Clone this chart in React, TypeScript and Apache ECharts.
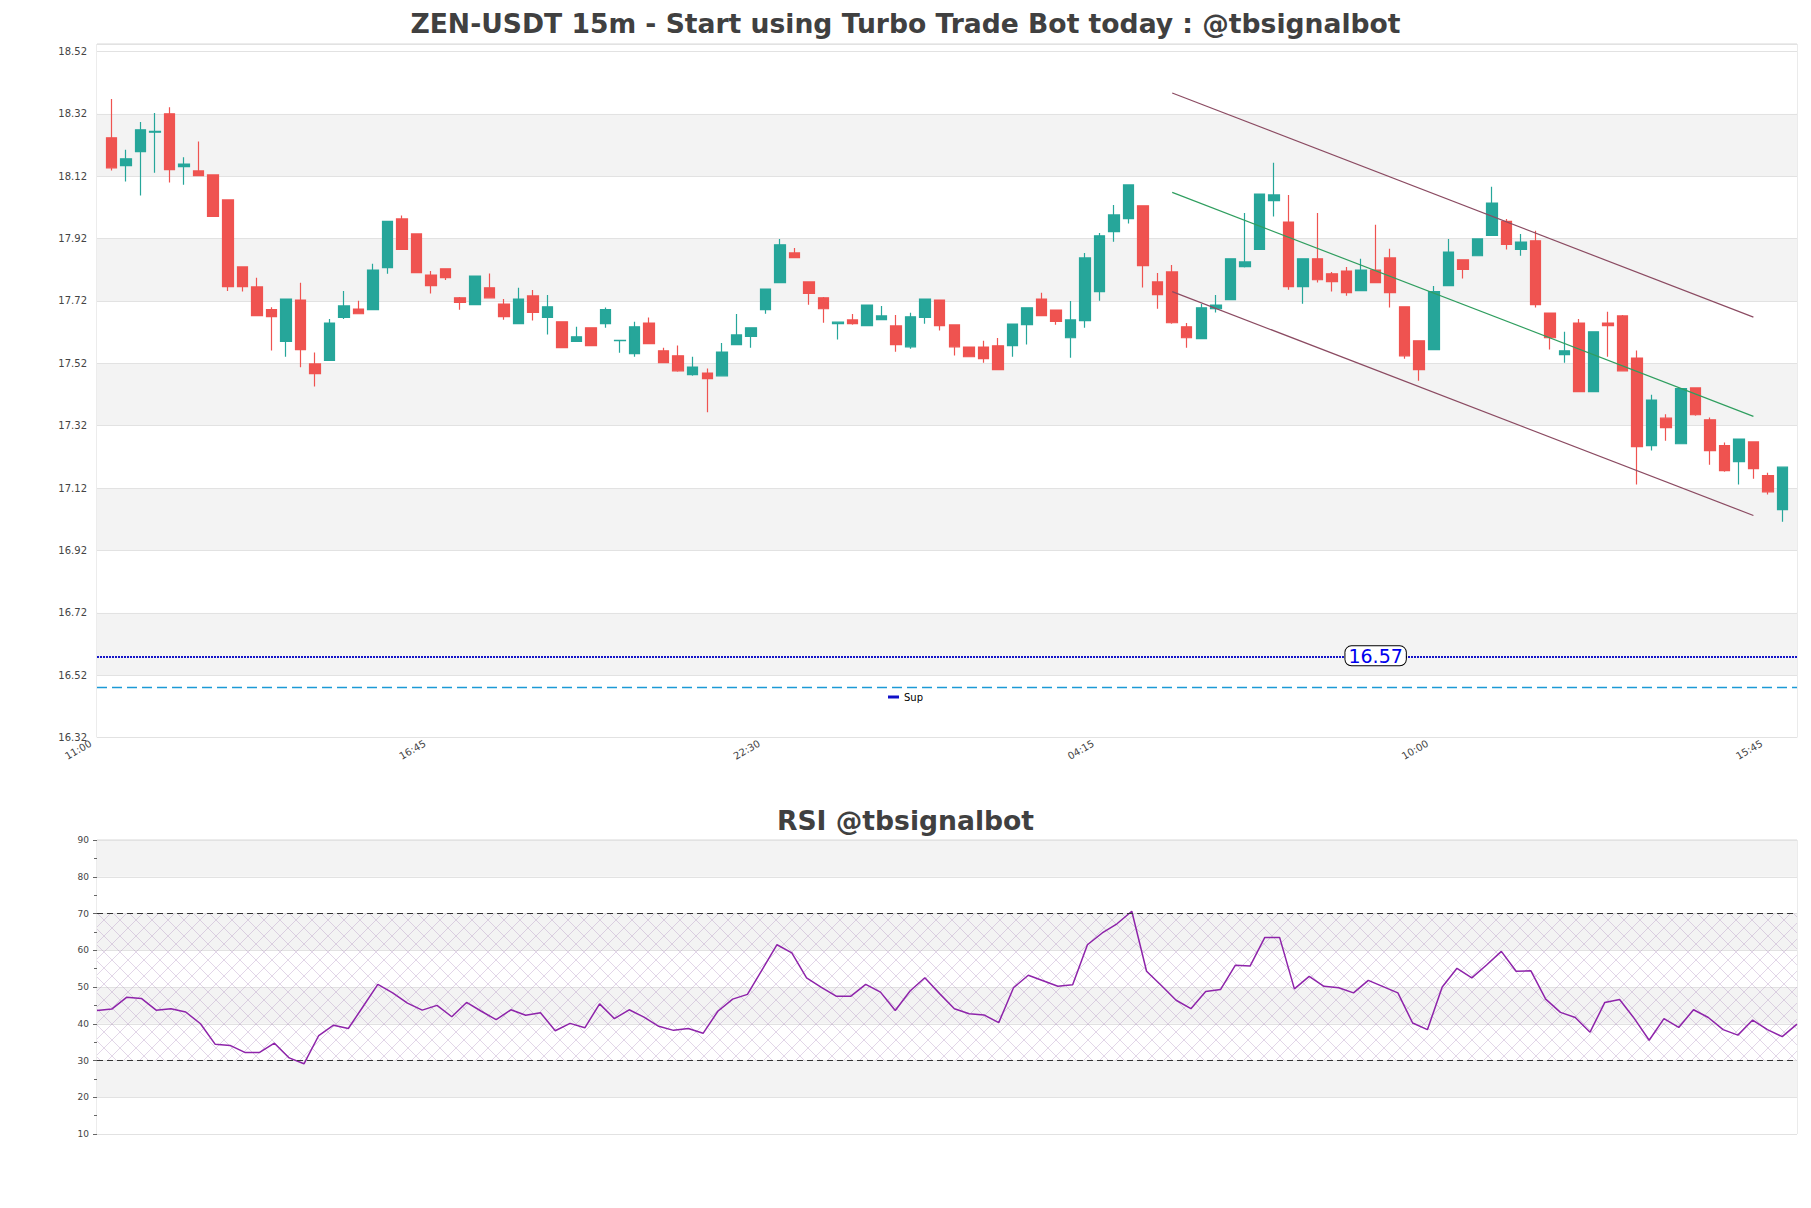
import React, { useEffect, useRef } from "react";
import * as echarts from "echarts";

// ---------- data ----------
const TITLE = "ZEN-USDT 15m - Start using Turbo Trade Bot today : @tbsignalbot";
const RSI_TITLE = "RSI @tbsignalbot";
const START_MINUTES = 11 * 60; // first candle 11:00
const STEP_MINUTES = 15;
const LABEL_EVERY = 23; // candles between tick labels

const OPEN = [
  18.243, 18.154, 18.199, 18.261, 18.32, 18.151, 18.137, 18.124, 18.044, 17.829,
  17.765, 17.692, 17.59, 17.723, 17.518, 17.529, 17.667, 17.694, 17.692, 17.827,
  17.983, 17.935, 17.803, 17.823, 17.73, 17.708, 17.762, 17.71, 17.647, 17.736,
  17.667, 17.653, 17.59, 17.634, 17.647, 17.593, 17.551, 17.649, 17.56, 17.544,
  17.484, 17.489, 17.48, 17.58, 17.606, 17.692, 17.779, 17.874, 17.781, 17.73,
  17.647, 17.659, 17.641, 17.66, 17.64, 17.573, 17.667, 17.723, 17.643, 17.572,
  17.572, 17.576, 17.577, 17.644, 17.726, 17.691, 17.602, 17.657, 17.75, 17.942,
  17.984, 18.025, 17.781, 17.813, 17.637, 17.599, 17.695, 17.724, 17.83, 17.885,
  18.042, 17.973, 17.766, 17.855, 17.807, 17.816, 17.753, 17.819, 17.858, 17.701,
  17.592, 17.564, 17.769, 17.852, 17.865, 17.93, 17.975, 17.885, 17.913, 17.681,
  17.548, 17.649, 17.429, 17.649, 17.672, 17.537, 17.256, 17.344, 17.262, 17.441,
  17.339, 17.256, 17.205, 17.268, 17.16, 17.051,
];
const CLOSE = [
  18.147, 18.176, 18.269, 18.264, 18.141, 18.159, 18.122, 17.991, 17.766, 17.766,
  17.673, 17.67, 17.726, 17.564, 17.487, 17.649, 17.704, 17.679, 17.819, 17.975,
  17.885, 17.811, 17.769, 17.795, 17.715, 17.8, 17.73, 17.67, 17.726, 17.683,
  17.701, 17.57, 17.605, 17.577, 17.692, 17.594, 17.637, 17.583, 17.522, 17.496,
  17.508, 17.471, 17.556, 17.611, 17.634, 17.758, 17.9, 17.859, 17.744, 17.695,
  17.652, 17.647, 17.707, 17.672, 17.58, 17.669, 17.726, 17.641, 17.573, 17.541,
  17.535, 17.5, 17.646, 17.698, 17.673, 17.654, 17.659, 17.858, 17.929, 17.996,
  18.092, 17.833, 17.74, 17.65, 17.602, 17.698, 17.707, 17.855, 17.845, 18.063,
  18.06, 17.766, 17.855, 17.788, 17.782, 17.747, 17.819, 17.779, 17.747, 17.544,
  17.5, 17.75, 17.877, 17.821, 17.919, 18.034, 17.901, 17.909, 17.708, 17.602,
  17.56, 17.429, 17.621, 17.641, 17.496, 17.253, 17.402, 17.314, 17.439, 17.355,
  17.24, 17.176, 17.277, 17.182, 17.108, 17.187,
];
const HIGH = [
  18.368, 18.205, 18.294, 18.323, 18.341, 18.181, 18.231, 18.125, 18.045, 17.83,
  17.794, 17.7, 17.727, 17.778, 17.555, 17.662, 17.752, 17.721, 17.839, 17.976,
  17.994, 17.936, 17.816, 17.824, 17.733, 17.801, 17.808, 17.726, 17.762, 17.755,
  17.739, 17.654, 17.637, 17.635, 17.699, 17.595, 17.653, 17.667, 17.57, 17.577,
  17.541, 17.503, 17.585, 17.678, 17.635, 17.759, 17.919, 17.89, 17.782, 17.733,
  17.653, 17.678, 17.708, 17.704, 17.675, 17.682, 17.727, 17.724, 17.644, 17.573,
  17.592, 17.601, 17.647, 17.699, 17.746, 17.692, 17.72, 17.874, 17.938, 18.028,
  18.093, 18.026, 17.81, 17.835, 17.649, 17.71, 17.739, 17.856, 18.002, 18.064,
  18.163, 18.06, 17.856, 18.002, 17.813, 17.829, 17.855, 17.964, 17.887, 17.702,
  17.593, 17.768, 17.919, 17.853, 17.92, 18.086, 17.983, 17.935, 17.945, 17.682,
  17.621, 17.662, 17.622, 17.685, 17.675, 17.561, 17.419, 17.357, 17.44, 17.442,
  17.346, 17.266, 17.278, 17.269, 17.169, 17.188,
];
const LOW = [
  18.138, 18.103, 18.058, 18.131, 18.1, 18.093, 18.121, 17.99, 17.752, 17.75,
  17.672, 17.561, 17.541, 17.507, 17.446, 17.528, 17.662, 17.678, 17.69, 17.807,
  17.884, 17.81, 17.744, 17.787, 17.692, 17.707, 17.729, 17.66, 17.646, 17.657,
  17.612, 17.569, 17.589, 17.576, 17.634, 17.554, 17.541, 17.582, 17.521, 17.493,
  17.48, 17.363, 17.479, 17.579, 17.57, 17.679, 17.778, 17.858, 17.708, 17.65,
  17.596, 17.644, 17.64, 17.659, 17.557, 17.567, 17.647, 17.625, 17.545, 17.54,
  17.522, 17.499, 17.541, 17.58, 17.672, 17.644, 17.538, 17.634, 17.721, 17.91,
  17.968, 17.763, 17.695, 17.647, 17.57, 17.598, 17.683, 17.723, 17.827, 17.884,
  17.991, 17.756, 17.711, 17.779, 17.75, 17.737, 17.752, 17.778, 17.699, 17.535,
  17.464, 17.563, 17.768, 17.792, 17.864, 17.929, 17.885, 17.865, 17.699, 17.564,
  17.522, 17.428, 17.428, 17.541, 17.495, 17.131, 17.24, 17.272, 17.261, 17.352,
  17.195, 17.172, 17.131, 17.15, 17.099, 17.012,
];
const RSI = [
  43.6, 44.0, 47.2, 46.9, 43.7, 44.1, 43.2, 40.0, 34.4, 34.1,
  32.2, 32.2, 34.7, 30.7, 29.1, 36.8, 39.6, 38.7, 44.7, 50.7,
  48.4, 45.6, 43.7, 45.0, 41.9, 45.8, 43.4, 41.1, 43.8, 42.3,
  43.0, 38.1, 40.1, 38.9, 45.4, 41.4, 43.8, 41.8, 39.3, 38.2,
  38.7, 37.4, 43.4, 46.7, 48.0, 54.7, 61.5, 59.3, 52.5, 49.9,
  47.5, 47.5, 50.7, 48.6, 43.6, 48.9, 52.5, 48.2, 44.1, 42.7,
  42.4, 40.3, 49.8, 53.2, 51.7, 50.2, 50.6, 61.5, 64.7, 67.2,
  70.6, 54.3, 50.4, 46.4, 44.1, 48.8, 49.3, 55.9, 55.7, 63.5,
  63.5, 49.5, 52.9, 50.2, 49.8, 48.4, 51.8, 50.1, 48.4, 40.2,
  38.4, 50.0, 55.1, 52.5, 56.0, 59.7, 54.3, 54.4, 46.7, 43.1,
  41.7, 37.7, 45.8, 46.6, 41.4, 35.5, 41.4, 39.0, 43.8, 41.7,
  38.4, 36.9, 41.0, 38.4, 36.5, 39.9,
];

// price axis
const PRICE_MIN = 16.32;
const PRICE_TOP = 18.544;
const PRICE_STEP = 0.2;
const MAIN_BANDS = ["#ffffff", "#f3f3f3", "#ffffff", "#f3f3f3", "#ffffff", "#f3f3f3", "#ffffff", "#f3f3f3", "#ffffff", "#f3f3f3", "#ffffff", "#ffffff"];

// horizontal levels
const SUP = 16.577;
const SUP_LABEL = "16.57";
const SUP_LABEL_AT = 87; // candle index where the value tag sits
const LEVEL2 = 16.485;

// regression channel (candle index, price)
const CHANNEL_X = [73, 113];
const CH_UPPER = [18.387, 17.668];
const CH_MID = [18.068, 17.35];
const CH_LOWER = [17.75, 17.032];

// RSI axis
const RSI_MIN = 10;
const RSI_MAX = 90;
const RSI_STEP = 10;
const RSI_LEVELS = [70, 30];
const RSI_ZONE = [30, 70];

// ---------- helpers ----------
const FONT = "DejaVu Sans";
const pad2 = (n: number) => (n < 10 ? "0" + n : "" + n);
const TIMES = OPEN.map((_, i) => {
  const m = (START_MINUTES + i * STEP_MINUTES) % 1440;
  return pad2(Math.floor(m / 60)) + ":" + pad2(m % 60);
});
const CATS = ["", ...TIMES, ""];
const sh = (v: number) => v - PRICE_MIN;

const hatchSvg =
  "<svg xmlns='http://www.w3.org/2000/svg' width='16' height='16'>" +
  "<path d='M0 0L16 16M16 0L0 16' stroke='#a27bb6' stroke-opacity='0.45' stroke-width='0.7' fill='none'/></svg>";
const HATCH = {
  image: "data:image/svg+xml;charset=utf-8," + encodeURIComponent(hatchSvg),
  repeat: "repeat",
  imageWidth: 16,
  imageHeight: 16,
};

function buildOption() {
  const candleData: any[] = ["-"];
  OPEN.forEach((o, i) => candleData.push([sh(o), sh(CLOSE[i]), sh(LOW[i]), sh(HIGH[i])]));
  candleData.push("-");

  const chLine = (name: string, vals: number[], color: string) => ({
    name,
    type: "line",
    xAxisIndex: 0,
    yAxisIndex: 0,
    data: CHANNEL_X.map((x, i) => [x + 1, sh(vals[i])]),
    showSymbol: false,
    symbol: "none",
    silent: true,
    z: 4,
    lineStyle: { color, width: 1.2 },
  });

  const titleStyle = { fontSize: 26.6, fontWeight: "bold", color: "#404040", fontFamily: FONT };

  return {
    animation: false,
    backgroundColor: "#ffffff",
    textStyle: { fontFamily: FONT },
    title: [
      { text: TITLE, left: "center", top: 5, textStyle: titleStyle },
      { text: RSI_TITLE, left: "center", top: 802, textStyle: titleStyle },
    ],
    legend: {
      data: ["Sup"],
      left: 883,
      top: 687,
      icon: "rect",
      itemWidth: 11,
      itemHeight: 3,
      itemGap: 6,
      textStyle: { fontSize: 10, color: "#000", fontFamily: FONT },
    },
    grid: [
      { left: 97, top: 44, width: 1700, height: 693.5, show: true, borderColor: "#d8d8d8", borderWidth: 1, backgroundColor: "#fff" },
      { left: 97, top: 840, width: 1700, height: 294, show: true, borderColor: "#d8d8d8", borderWidth: 1, backgroundColor: "#fff" },
    ],
    xAxis: [
      {
        type: "category",
        gridIndex: 0,
        data: CATS,
        boundaryGap: false,
        axisLine: { show: false },
        axisTick: { show: false },
        splitLine: { show: false },
        axisLabel: {
          interval: (idx: number) => idx >= 1 && idx <= TIMES.length && (idx - 1) % LABEL_EVERY === 0,
          rotate: 30,
          margin: -7,
          padding: [0, 24, 0, 0],
          fontSize: 10,
          color: "#444",
          fontFamily: FONT,
        },
      },
      {
        type: "category",
        gridIndex: 1,
        data: TIMES,
        boundaryGap: false,
        axisLine: { show: false },
        axisTick: { show: false },
        axisLabel: { show: false },
        splitLine: { show: false },
      },
    ],
    yAxis: [
      {
        type: "value",
        gridIndex: 0,
        min: 0,
        max: +(PRICE_TOP - PRICE_MIN).toFixed(4),
        interval: PRICE_STEP,
        axisLine: { show: false },
        axisTick: { show: false },
        splitLine: { show: true, lineStyle: { color: "#e2e2e2", width: 1 } },
        splitArea: { show: true, areaStyle: { color: MAIN_BANDS } },
        axisLabel: {
          fontSize: 10,
          color: "#444",
          margin: 10,
          fontFamily: FONT,
          formatter: (v: number) => {
            const k = v / PRICE_STEP;
            return Math.abs(k - Math.round(k)) < 1e-6 ? (v + PRICE_MIN).toFixed(2) : "";
          },
        },
      },
      {
        type: "value",
        gridIndex: 1,
        min: RSI_MIN,
        max: RSI_MAX,
        interval: RSI_STEP,
        axisLine: { show: false },
        axisTick: { show: true, length: 4, lineStyle: { color: "#666" } },
        minorTick: { show: true, splitNumber: 2, length: 3, lineStyle: { color: "#666" } },
        splitLine: { show: true, lineStyle: { color: "#e2e2e2", width: 1 } },
        splitArea: { show: true, areaStyle: { color: ["#ffffff", "#f3f3f3"] } },
        axisLabel: { fontSize: 9, color: "#444", margin: 8, fontFamily: FONT },
      },
    ],
    series: [
      {
        name: "price",
        type: "candlestick",
        xAxisIndex: 0,
        yAxisIndex: 0,
        data: candleData,
        barWidth: 11,
        z: 3,
        itemStyle: {
          color: "#26a69a",
          color0: "#ef5350",
          borderColor: "#26a69a",
          borderColor0: "#ef5350",
          borderWidth: 1.2,
        },
      },
      {
        name: "Sup",
        type: "line",
        xAxisIndex: 0,
        yAxisIndex: 0,
        data: [],
        z: 5,
        itemStyle: { color: "#1010c8" },
        lineStyle: { color: "#1010c8", width: 2 },
        markLine: {
          silent: true,
          symbol: "none",
          label: { show: false },
          lineStyle: { color: "#1414c8", width: 2, type: [2, 1] },
          data: [{ yAxis: sh(SUP) }],
        },
        markPoint: {
          silent: true,
          symbol: "rect",
          symbolSize: 1,
          itemStyle: { color: "rgba(0,0,0,0)" },
          label: {
            show: true,
            position: "inside",
            offset: [0, -1.5],
            formatter: () => SUP_LABEL,
            color: "#0000ee",
            fontSize: 19,
            fontFamily: FONT,
            backgroundColor: "#ffffff",
            borderColor: "#000",
            borderWidth: 1,
            borderRadius: 6,
            padding: [0, 3, 0, 3],
          },
          data: [{ coord: [SUP_LABEL_AT + 1, sh(SUP)] }],
        },
      },
      {
        name: "level2",
        type: "line",
        xAxisIndex: 0,
        yAxisIndex: 0,
        data: [],
        z: 5,
        markLine: {
          silent: true,
          symbol: "none",
          label: { show: false },
          lineStyle: { color: "#1c9ad6", width: 1.3, type: [10, 5] },
          data: [{ yAxis: sh(LEVEL2) }],
        },
      },
      chLine("upper", CH_UPPER, "#8b4b62"),
      chLine("mid", CH_MID, "#2f9e5f"),
      chLine("lower", CH_LOWER, "#8b4b62"),
      {
        name: "RSI",
        type: "line",
        xAxisIndex: 1,
        yAxisIndex: 1,
        data: RSI,
        showSymbol: false,
        symbol: "none",
        z: 4,
        lineStyle: { color: "#8e24aa", width: 1.5 },
        itemStyle: { color: "#8e24aa" },
        markLine: {
          silent: true,
          symbol: "none",
          label: { show: false },
          lineStyle: { color: "#333", width: 1.2, type: [6, 4] },
          data: RSI_LEVELS.map((v) => ({ yAxis: v })),
        },
        markArea: {
          silent: true,
          itemStyle: { color: HATCH },
          data: [[{ yAxis: RSI_ZONE[0] }, { yAxis: RSI_ZONE[1] }]],
        },
      },
    ],
  };
}

export default function App() {
  const ref = useRef<HTMLDivElement>(null);
  useEffect(() => {
    if (!ref.current) return;
    const chart = echarts.init(ref.current, null, { renderer: "svg", width: 1811, height: 1208 });
    chart.setOption(buildOption() as any);
    return () => chart.dispose();
  }, []);
  return (
    <div
      ref={ref}
      style={{ position: "absolute", left: 0, top: 0, width: 1811, height: 1208, background: "#fff" }}
    />
  );
}
